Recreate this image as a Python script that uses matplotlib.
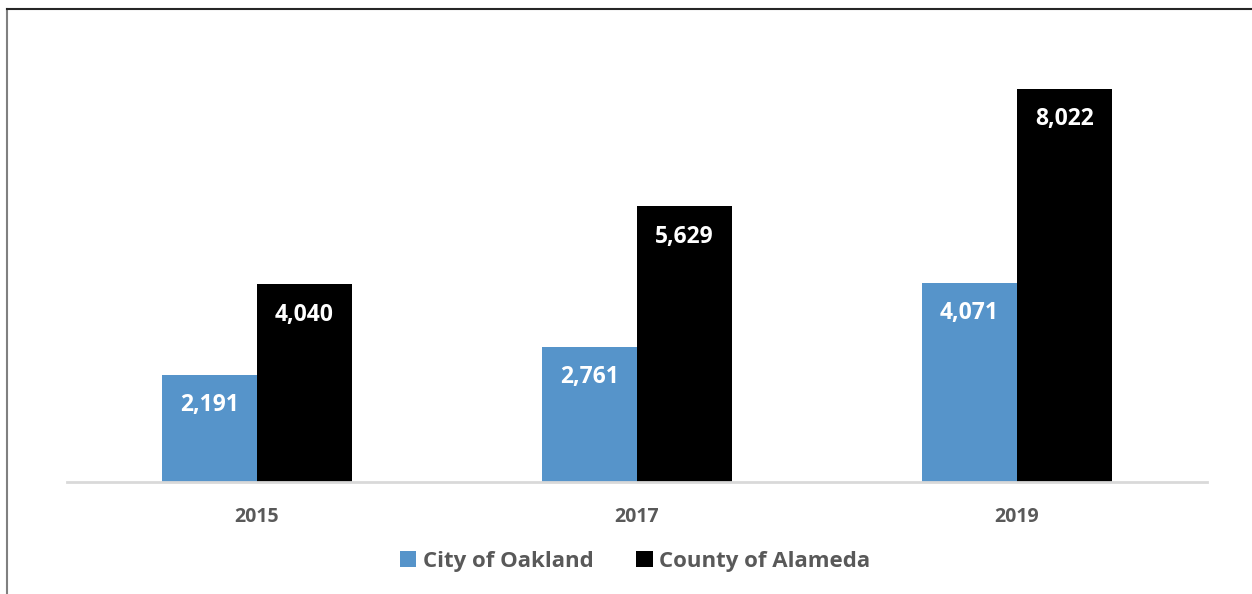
import matplotlib
matplotlib.use("Agg")
import matplotlib.pyplot as plt
from matplotlib.patches import Patch
from matplotlib.lines import Line2D
import numpy as np

years = ["2015", "2017", "2019"]
oakland = [2191, 2761, 4071]
alameda = [4040, 5629, 8022]
series_names = ["City of Oakland", "County of Alameda"]
colors = ["#5694CA", "#000000"]

W, H = 1252, 594
fig = plt.figure(figsize=(W / 100, H / 100), dpi=100)
fig.patch.set_facecolor("white")

# outer frame lines (left and top)
fig.add_artist(Line2D([7 / W, 7 / W], [0, 1 - 9 / H], transform=fig.transFigure,
                      color="#808080", lw=1.5))
fig.add_artist(Line2D([7 / W, 1], [1 - 9 / H, 1 - 9 / H], transform=fig.transFigure,
                      color="#262626", lw=1.5))

ax_left, ax_right = 67, 1207
ax_top, ax_bottom = 41, 482
ax = fig.add_axes([ax_left / W, 1 - ax_bottom / H, (ax_right - ax_left) / W,
                   (ax_bottom - ax_top) / H])
ax.set_xlim(-0.5, len(years) - 0.5)
ax.set_ylim(0, 9000)

x = np.arange(len(years))
bw = 0.25
font = "Open Sans"
for i, (vals, c) in enumerate(zip([oakland, alameda], colors)):
    pos = x + (i - 0.5) * bw
    bars = ax.bar(pos, vals, width=bw, color=c, zorder=2)
    for b, v in zip(bars, vals):
        ax.annotate(f"{v:,}", (b.get_x() + b.get_width() / 2, v),
                    xytext=(0, -22), textcoords="offset points",
                    ha="center", va="center", color="white",
                    fontsize=16.5, fontweight="bold", family=font)

for s in ["top", "right", "left"]:
    ax.spines[s].set_visible(False)
ax.spines["bottom"].set_color("#D9D9D9")
ax.spines["bottom"].set_linewidth(2)
ax.set_yticks([])
ax.set_xticks(x)
ax.set_xticklabels(years, fontsize=14, fontweight="bold", color="#595959", family=font)
ax.tick_params(axis="x", length=0, pad=18)

handles = [Patch(facecolor=c, edgecolor="none") for c in colors]
fig.legend(handles, series_names, loc="center", bbox_to_anchor=(635 / W, 1 - 561 / H),
           ncol=2, frameon=False, prop={"family": font, "weight": "bold", "size": 16},
           labelcolor="#595959", handlelength=0.75, handleheight=0.75,
           handletextpad=0.3, columnspacing=1.9)

fig.savefig("out.png", dpi=100)
